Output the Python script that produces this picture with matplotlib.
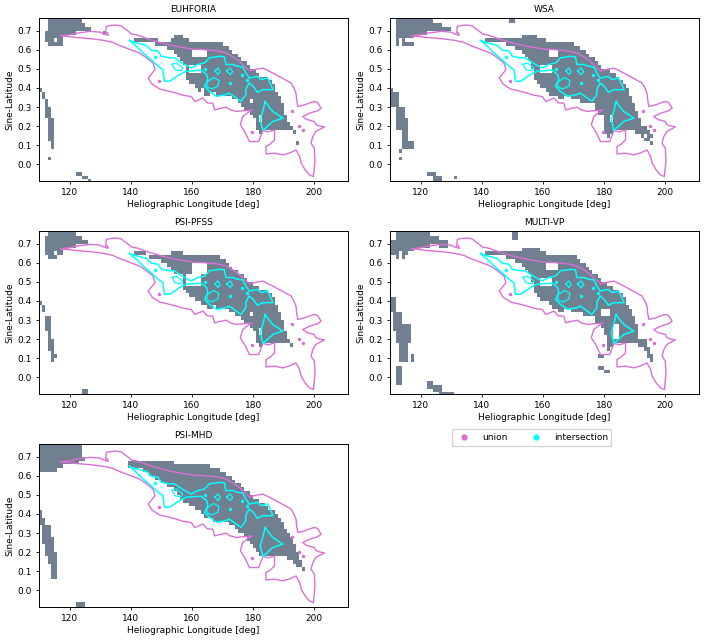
import numpy as np
from matplotlib import pyplot as plt
from matplotlib.colors import ListedColormap
from matplotlib.lines import Line2D

# Contours shared by all panels (lon [deg], sine-lat)
union_lon = [117.2, 120, 122.3, 124.5, 126.6, 129.9, 131.0, 132.6, 132.4, 131.8, 132.0, 133.5, 135.2, 137.0, 137.7, 139, 140.2,
             142, 144, 146, 148.4, 151, 154.9, 158, 160.3, 163, 166.8, 169, 171.2, 173.5, 175.5, 177, 178.8, 181, 183.2, 185, 187.5,
             190, 192.4, 193.3, 194, 194.2, 194.6, 197, 198.5, 200, 201, 202.2, 201, 198.5, 196.2, 197.5, 200, 200.5, 201.6, 203.3, 200.5,
             199.5, 198.9, 200, 200.2, 199.7, 198.4, 197, 195.7, 195.2, 194, 192, 189.7, 187, 184.2, 184.2, 185.5, 187, 187, 185, 183.2,
             181.8, 178.8, 177.2, 175.8, 176.6, 178, 179.7, 174.5, 172.5, 171.2, 169, 167.4, 166.8, 165, 163.6, 160.9, 159.8,
             157, 154.9, 152, 149.5, 147, 145.7, 147.9, 147.3, 145, 142.9, 138.6, 136, 134.2, 131, 127.7, 122, 117.2]
union_lat = [0.674, 0.679, 0.688, 0.692, 0.697, 0.693, 0.684, 0.676, 0.69, 0.688, 0.723, 0.728, 0.73, 0.725, 0.714, 0.70, 0.683,
             0.678, 0.667, 0.655, 0.644, 0.632, 0.618, 0.61, 0.604, 0.602, 0.597, 0.592, 0.583, 0.562, 0.539, 0.515, 0.49, 0.498, 0.504, 0.49, 0.469,
             0.447, 0.426, 0.40, 0.373, 0.34, 0.303, 0.312, 0.322, 0.329, 0.325, 0.294, 0.28, 0.268, 0.25, 0.235, 0.224, 0.208, 0.201, 0.196, 0.172,
             0.145, 0.11, 0.085, 0.02, -0.065, -0.056, -0.03, 0.005, 0.04, 0.075, 0.06, 0.049, 0.058, 0.054, 0.093, 0.105, 0.128, 0.18, 0.17, 0.177,
             0.119, 0.119, 0.172, 0.207, 0.25, 0.268, 0.285, 0.277, 0.285, 0.299, 0.292, 0.285, 0.32, 0.322, 0.347, 0.329, 0.355,
             0.362, 0.373, 0.385, 0.394, 0.42, 0.452, 0.496, 0.53, 0.56, 0.583, 0.609, 0.625, 0.639, 0.65, 0.657, 0.665, 0.674]
inter_lon = [139.6, 141.8, 145.1, 146.7, 148.9, 150, 152.7, 154.3, 155.9, 157.6, 159.7, 161.9, 164.1, 165.7, 169, 170.6, 171.1, 173.3, 174.9,
             176.6, 177.6, 178.7, 181.4, 182.5, 184.7, 185.8, 186.5, 183.1, 181.4, 180, 178.7, 177.6, 177.6, 176, 172.2, 171.1, 168.1, 165.7, 164.1,
             165.2, 164.8, 163, 158.1, 155.9, 152.7, 151, 150.5, 148.9, 147.2, 144, 141.8, 139.6]
inter_lat = [0.649, 0.637, 0.623, 0.598, 0.593, 0.566, 0.558, 0.558, 0.54, 0.523, 0.505, 0.523, 0.531, 0.558, 0.566, 0.563, 0.523, 0.523, 0.514,
             0.51, 0.479, 0.452, 0.461, 0.444, 0.452, 0.417, 0.391, 0.391, 0.377, 0.409, 0.426, 0.394, 0.365, 0.33, 0.373, 0.365, 0.356, 0.382, 0.409,
             0.444, 0.47, 0.493, 0.488, 0.47, 0.435, 0.435, 0.496, 0.514, 0.54, 0.584, 0.619, 0.649]
inter2_lon = [183.9, 185.2, 186.4, 189.7, 186.4, 183.2, 182.3, 183.2, 183.9]
inter2_lat = [0.329, 0.30, 0.277, 0.242, 0.224, 0.177, 0.233, 0.28, 0.329]
loop_lon = [[153.5, 155, 157, 156.5, 154.5, 153.5], [164.8, 167, 168.8, 168.5, 166.5, 165, 164.8],
            [167.5, 168.5, 169.2, 168.5, 167.5], [171.3, 172.5, 173.3, 172.5, 171.3]]
loop_lat = [[0.525, 0.53, 0.505, 0.49, 0.495, 0.525], [0.43, 0.455, 0.44, 0.41, 0.395, 0.405, 0.43],
            [0.49, 0.505, 0.485, 0.47, 0.49], [0.49, 0.505, 0.485, 0.47, 0.49]]
union_dots_lon = [192.7, 195.1, 196.4, 149.1, 179.6]
union_dots_lat = [0.28, 0.20, 0.18, 0.437, 0.17]
inter_dots_lon = [172.3, 164.3, 148, 178, 176.5]
inter_dots_lat = [0.425, 0.50, 0.56, 0.44, 0.47]

# Main region per model: upper and lower edge for each 1 deg column from 141
main_start = 141
euhforia_top = [.66, .66, .66, .66, .66, .66, .66, .66, .64, .64, .64, .64, .66, .68, .68, .68, .66, .66, .64, .64, .64, .64, .64, .64, .64, .64, .64, .64, .64,
                .62, .62, .60, .58, .58, .56, .54, .54, .52, .50, .50, .48, .46, .46, .46, .44, .42, .38, .36, .32, .26, .22, .20, .18]
euhforia_bot = [.64, .64, .64, .64, .64, .64, .64, .62, .62, .62, .62, .60, .60, .58, .56, .54, .52, .44, .42, .42, .40, .38, .40, .36, .36, .38, .38, .36, .36,
                .36, .36, .36, .34, .34, .32, .30, .28, .28, .26, .24, .18, .16, .18, .18, .18, .18, .18, .18, .18, .18, .18, .18, .16]
wsa_top = [.66, .66, .66, .66, .66, .66, .66, .66, .66, .66, .66, .66, .68, .68, .68, .68, .68, .66, .66, .66, .64, .64, .64, .64, .64, .64, .64, .64, .64,
           .62, .62, .60, .60, .58, .56, .56, .54, .52, .50, .50, .50, .48, .48, .46, .44, .42, .40, .36, .32, .28, .24, .20, .20, .18, .16]
wsa_bot = [.64, .64, .64, .64, .64, .64, .64, .62, .62, .62, .60, .60, .58, .56, .54, .50, .44, .42, .40, .40, .38, .36, .36, .36, .34, .34, .36, .36, .34,
           .34, .34, .32, .32, .32, .32, .32, .28, .26, .26, .16, .14, .16, .18, .18, .18, .18, .18, .18, .18, .16, .16, .14, .16, .14, .14]
pfss_top = [.66, .66, .66, .66, .64, .64, .64, .64, .64, .64, .64, .64, .66, .66, .66, .66, .64, .64, .64, .64, .64, .64, .64, .64, .64, .64, .64, .64, .62,
            .62, .60, .58, .56, .56, .54, .54, .52, .50, .50, .48, .48, .46, .46, .46, .44, .42, .38, .34, .30, .24, .20, .18]
pfss_bot = [.64, .64, .64, .64, .64, .62, .62, .62, .62, .60, .60, .58, .56, .54, .54, .54, .46, .44, .42, .42, .40, .40, .38, .38, .36, .36, .38, .36, .36,
            .36, .36, .34, .34, .32, .32, .30, .28, .28, .26, .24, .18, .16, .18, .18, .18, .18, .18, .18, .18, .18, .18, .16]
multi_top = [.66, .66, .66, .66, .66, .66, .66, .66, .66, .66, .66, .66, .68, .68, .68, .68, .68, .68, .66, .66, .64, .64, .64, .64, .64, .64, .64, .64, .64,
             .64, .62, .60, .60, .58, .56, .54, .54, .52, .50, .50, .48, .48, .46, .46, .44, .42, .38, .36, .32, .28, .20]
multi_bot = [.64, .64, .64, .64, .64, .64, .64, .62, .62, .62, .60, .60, .58, .56, .54, .50, .44, .42, .40, .40, .40, .38, .36, .36, .34, .34, .36, .36, .34,
             .34, .34, .34, .32, .32, .32, .32, .28, .28, .26, .22, .14, .16, .18, .18, .18, .18, .18, .18, .18, .18, .18]
mhd_top = [.68, .68, .68, .68, .68, .68, .68, .68, .68, .68, .68, .68, .68, .66, .66, .66, .66, .66, .66, .66, .66, .66, .66, .66, .66, .64, .64, .64, .62,
           .62, .60, .60, .58, .56, .56, .54, .52, .52, .50, .48, .48, .46, .46, .44, .42, .42, .40, .38, .36, .32, .30, .28, .24, .20, .16, .12]
mhd_bot = [.64, .64, .64, .62, .62, .60, .60, .58, .58, .56, .56, .54, .54, .52, .50, .48, .46, .46, .44, .44, .42, .42, .40, .38, .38, .38, .36, .36, .36,
           .36, .36, .34, .34, .32, .30, .30, .28, .26, .24, .22, .20, .18, .18, .18, .18, .18, .18, .18, .18, .18, .16, .16, .14, .12, .12, .10]

# Other patches: lon0, lon1, lat0, lat1
euhforia_blocks = [(112, 113, .64, .70), (113, 118, .62, .78), (118, 122, .68, .78), (122, 124, .70, .78), (124, 125, .70, .74), (125, 127, .70, .72),
                   (110, 111, .38, .40), (111, 112, .34, .38), (112, 113, .24, .34), (113, 114, .12, .30), (114, 115, .08, .24), (113, 114, .02, .04),
                   (122, 124, -.06, -.04), (124, 126, -.08, -.06), (126, 127, -.10, -.08), (194, 195, .11, .13), (131, 132, .68, .70)]
euhforia_holes = [(115, 116, .64, .66), (118, 119, .62, .66), (159, 163, .48, .52), (160, 165, .56, .60), (179, 180, .33, .35), (182, 183, .22, .26)]
wsa_blocks = [(112, 118, .62, .78), (118, 122, .68, .78), (122, 124, .70, .78), (124, 127, .70, .74), (127, 130, .70, .72), (149, 151, .74, .78),
              (110, 111, .30, .40), (111, 113, .30, .38), (112, 115, .24, .30), (112, 116, .18, .24), (114, 116, .12, .18), (114, 118, .08, .12),
              (113, 114, .06, .08), (113, 114, .02, .04), (122, 125, -.06, -.04), (124, 127, -.10, -.06), (129, 130, -.09, -.07), (131, 132, -.08, -.06),
              (193, 195, .12, .14), (195, 196, .10, .12), (112, 113, .62, .64)]
wsa_holes = [(113, 114, .62, .66), (115, 118, .64, .66), (159, 163, .48, .52), (162, 165, .56, .60), (182, 183, .22, .26)]
pfss_blocks = [(112, 113, .64, .74), (113, 116, .62, .76), (116, 118, .64, .78), (118, 122, .68, .78), (122, 124, .70, .74), (124, 126, .70, .72),
               (110, 111, .38, .40), (111, 112, .34, .38), (112, 114, .24, .32), (113, 114, .14, .24), (114, 115, .08, .20), (115, 116, .10, .12),
               (124, 126, -.10, -.06)]
pfss_holes = [(115, 116, .64, .66), (158, 163, .48, .54), (160, 165, .54, .60), (179, 180, .33, .35), (182, 183, .22, .26)]
multi_blocks = [(110, 112, .64, .72), (112, 115, .62, .76), (115, 118, .64, .78), (118, 123, .68, .78), (123, 126, .70, .74), (126, 129, .68, .72), (150, 152, .72, .78),
                (110, 112, .34, .42), (111, 114, .24, .34), (112, 117, .18, .28), (113, 116, .08, .18), (117, 118, .08, .12),
                (112, 114, -.04, .06), (122, 124, -.06, -.02), (124, 127, -.08, -.04), (126, 131, -.10, -.08),
                (191, 193, .16, .20), (193, 194, .14, .20), (194, 195, .10, .16), (195, 196, .08, .12), (178, 180, .10, .12), (178, 180, .04, .06), (180, 182, .02, .04)]
multi_holes = [(113, 114, .62, .66), (116, 118, .64, .66), (159, 163, .48, .52), (161, 165, .56, .60), (179, 182, .32, .36), (183, 185, .20, .28)]
mhd_blocks = [(110, 116, .62, .78), (116, 118, .64, .78), (118, 123, .66, .78), (123, 124, .68, .76), (124, 125, .68, .70), (139, 141, .64, .68),
              (110, 111, .36, .42), (110, 112, .34, .38), (111, 114, .24, .34), (112, 115, .18, .28), (113, 116, .14, .20), (114, 116, .06, .14),
              (122, 125, -.10, -.06)]
mhd_holes = []

model_names = ['EUHFORIA', 'WSA', 'PSI-PFSS', 'MULTI-VP', 'PSI-MHD']
model_tops = [euhforia_top, wsa_top, pfss_top, multi_top, mhd_top]
model_bots = [euhforia_bot, wsa_bot, pfss_bot, multi_bot, mhd_bot]
model_blocks = [euhforia_blocks, wsa_blocks, pfss_blocks, multi_blocks, mhd_blocks]
model_holes = [euhforia_holes, wsa_holes, pfss_holes, multi_holes, mhd_holes]

lon_edges = np.arange(110, 212, 1.0)
lat_edges = np.arange(-0.10, 0.8001, 0.02)
lon_mid = lon_edges[:-1] + 0.5
lat_mid = lat_edges[:-1] + 0.01


def paint(mask, block, value):
    lon0, lon1, lat0, lat1 = block
    sel_lon = (lon_mid >= lon0) & (lon_mid < lon1)
    sel_lat = (lat_mid >= lat0) & (lat_mid < lat1)
    mask[np.ix_(sel_lat, sel_lon)] = value


def build_mask(top, bot, blocks, holes):
    mask = np.zeros((len(lat_mid), len(lon_mid)))
    for i, (hi, lo) in enumerate(zip(top, bot)):
        paint(mask, (main_start + i, main_start + i + 1, lo, hi), 1)
    for block in blocks:
        paint(mask, block, 1)
    for hole in holes:
        paint(mask, hole, 0)
    return np.ma.masked_equal(mask, 0)


W, H = 706.0, 641.0
# left, top, right, bottom in pixels
boxes = [(39, 18, 348, 181), (390, 18, 699, 181), (39, 231, 348, 394), (390, 231, 699, 394), (39, 444, 348, 607)]

plt.rcParams['font.size'] = 6.5
fig = plt.figure(figsize=(W / 100, H / 100), dpi=100)
cmap = ListedColormap(['slategray'])

for iM, name in enumerate(model_names):
    l, t, r, b = boxes[iM]
    ax = fig.add_axes([l / W, 1 - b / H, (r - l) / W, (b - t) / H])
    mask = build_mask(model_tops[iM], model_bots[iM], model_blocks[iM], model_holes[iM])
    ax.pcolormesh(lon_edges, lat_edges, mask, cmap=cmap, vmin=0, vmax=1, antialiased=True, linewidth=0)
    ax.plot(union_lon, union_lat, color='orchid', lw=1.0)
    ax.plot(union_dots_lon, union_dots_lat, 'o', color='orchid', ms=1.5)
    ax.plot(inter_lon, inter_lat, color='cyan', lw=1.1)
    ax.plot(inter2_lon, inter2_lat, color='cyan', lw=1.1)
    for x, y in zip(loop_lon, loop_lat):
        ax.plot(x, y, color='cyan', lw=0.9)
    ax.plot(inter_dots_lon, inter_dots_lat, 'o', color='cyan', ms=1.5)
    ax.set_xlim(110, 211)
    ax.set_ylim(-0.088, 0.767)
    ax.set_xticks([120, 140, 160, 180, 200])
    ax.set_yticks([0.0, 0.1, 0.2, 0.3, 0.4, 0.5, 0.6, 0.7])
    ax.tick_params(length=2.5, width=0.6, pad=2.5)
    for spine in ax.spines.values():
        spine.set_linewidth(0.7)
    ax.set_xlabel('Heliographic Longitude [deg]', labelpad=2)
    ax.set_ylabel('Sine-Latitude', labelpad=2.5)
    ax.set_title(name, fontsize=6.5, pad=4)

handles = [Line2D([], [], ls='none', marker='o', color='orchid', ms=3.5, label='union'),
           Line2D([], [], ls='none', marker='o', color='cyan', ms=3.5, label='intersection')]
fig.legend(handles=handles, ncol=2, loc='center', bbox_to_anchor=(531.5 / W, 1 - 437.5 / H), columnspacing=2.1, handletextpad=1.0, fontsize=6.5)

fig.savefig('out.png', dpi=100)
